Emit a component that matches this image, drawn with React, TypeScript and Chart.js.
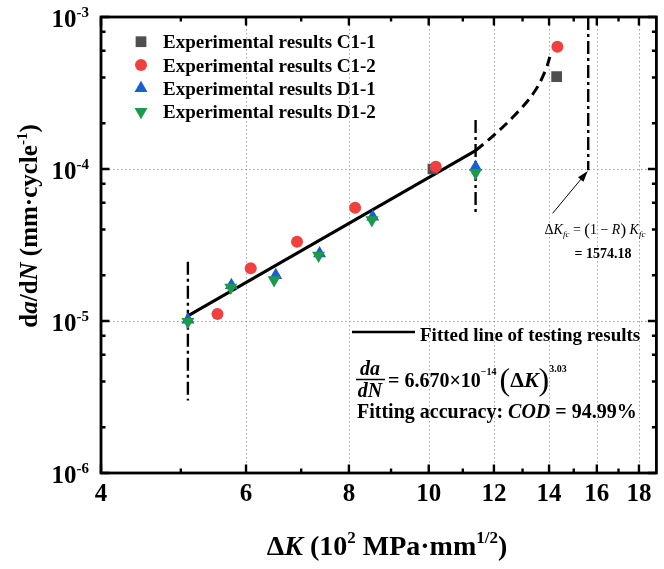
import React, { useEffect, useRef } from 'react';
import { Chart, registerables } from 'chart.js';
import { drawPoint } from 'chart.js/helpers';

Chart.register(...registerables);

// ---------- data ----------
const seriesNames = [
  'Experimental results C1-1',
  'Experimental results C1-2',
  'Experimental results D1-1',
  'Experimental results D1-2',
];
const c11K = [10.12, 14.3];
const c11Rate = [1.0e-4, 4.05e-4];
const c12K = [5.54, 6.08, 6.92, 8.14, 10.2, 14.33];
const c12Rate = [1.11e-5, 2.22e-5, 3.32e-5, 5.56e-5, 1.035e-4, 6.38e-4];
const d11K = [5.1, 5.76, 6.52, 7.37, 8.55, 11.4];
const d11Rate = [1.02e-5, 1.72e-5, 2.0e-5, 2.78e-5, 4.85e-5, 1.03e-4];
const d12K = [5.1, 5.75, 6.49, 7.35, 8.53, 11.4];
const d12Rate = [0.99e-5, 1.66e-5, 1.86e-5, 2.7e-5, 4.62e-5, 9.46e-5];

const fitK = [5.1, 11.4];
const fitRate = [1.08e-5, 1.32e-4];
const extrapK = [11.4, 12.0, 12.7, 13.4, 13.84, 14.07];
const extrapRate = [1.32e-4, 1.67e-4, 2.24e-4, 3.15e-4, 4.37e-4, 5.77e-4];

const limitLeftK = [5.1, 5.1];
const limitLeftRate = [2.45e-5, 3.0e-6];
const limitMidK = [11.4, 11.4];
const limitMidRate = [2.1e-4, 5.2e-5];
const kfcK = [15.62, 15.62];
const kfcRate = [1.0e-3, 9.8e-5];

const arrowTail = { x: 14.14, y: 5.11e-5 };
const arrowHead = { x: 15.6, y: 9.7e-5 };

// ---------- ticks ----------
const xMajorTicks = [4, 6, 8, 10, 12, 14, 16, 18];
const xTickLabels = ['4', '6', '8', '10', '12', '14', '16', '18'];
const xMinorTicks = [5, 7, 9, 11, 13, 15, 17];
const xGridValues = [6, 8, 10, 12, 14, 16, 18];
const yMajorTicks = [1e-6, 1e-5, 1e-4, 1e-3];
const yTickExponents = ['-6', '-5', '-4', '-3'];
const yMinorTicks = [2e-6, 4e-6, 6e-6, 8e-6, 2e-5, 4e-5, 6e-5, 8e-5, 2e-4, 4e-4, 6e-4, 8e-4];
const yGridValues = [1e-5, 1e-4];

const COLORS = ['#4f4f4f', '#f0413f', '#1a5fd1', '#1b9a4c'];
const STYLES = [
  { pointStyle: 'rect', rotation: 0, radius: 7.6 },
  { pointStyle: 'circle', rotation: 0, radius: 6 },
  { pointStyle: 'triangle', rotation: 0, radius: 7.5 },
  { pointStyle: 'triangle', rotation: 180, radius: 7.5 },
];

const SERIF = '"Liberation Serif", "Times New Roman", serif';
const B = (s: number) => `bold ${s}px ${SERIF}`;
const BI = (s: number) => `italic bold ${s}px ${SERIF}`;
const N = (s: number) => `${s}px ${SERIF}`;
const I = (s: number) => `italic ${s}px ${SERIF}`;

type Part = { t: string; font: string; dy?: number };

function richWidth(ctx: CanvasRenderingContext2D, parts: Part[]) {
  let w = 0;
  for (const p of parts) {
    ctx.font = p.font;
    w += ctx.measureText(p.t).width;
  }
  return w;
}

function drawRich(ctx: CanvasRenderingContext2D, parts: Part[], x: number, y: number, align: 'left' | 'center' | 'right' = 'left') {
  const w = richWidth(ctx, parts);
  let cx = align === 'center' ? x - w / 2 : align === 'right' ? x - w : x;
  ctx.textAlign = 'left';
  ctx.textBaseline = 'alphabetic';
  for (const p of parts) {
    ctx.font = p.font;
    ctx.fillText(p.t, cx, y + (p.dy || 0));
    cx += ctx.measureText(p.t).width;
  }
  return w;
}

const zip = (a: number[], b: number[]) => a.map((v, i) => ({ x: v, y: b[i] }));

const framePlugin = {
  id: 'frame',
  beforeDatasetsDraw(chart: any) {
    const { ctx, chartArea: a, scales } = chart;
    const x = scales.x;
    const y = scales.y;
    ctx.save();
    ctx.strokeStyle = '#a3a3a3';
    ctx.lineWidth = 1;
    ctx.setLineDash([1.5, 2.5]);
    for (const v of xGridValues) {
      const px = Math.round(x.getPixelForValue(v)) + 0.5;
      ctx.beginPath();
      ctx.moveTo(px, a.top);
      ctx.lineTo(px, a.bottom);
      ctx.stroke();
    }
    for (const v of yGridValues) {
      const py = Math.round(y.getPixelForValue(v)) + 0.5;
      ctx.beginPath();
      ctx.moveTo(a.left, py);
      ctx.lineTo(a.right, py);
      ctx.stroke();
    }
    ctx.restore();
  },
  afterDatasetsDraw(chart: any) {
    const { ctx, chartArea: a, scales } = chart;
    const x = scales.x;
    const y = scales.y;
    ctx.save();
    ctx.setLineDash([]);
    ctx.strokeStyle = '#000';
    ctx.fillStyle = '#000';

    // ticks (inward on all four sides)
    ctx.lineWidth = 2.4;
    const tickX = (v: number, len: number) => {
      const px = x.getPixelForValue(v);
      ctx.beginPath();
      ctx.moveTo(px, a.bottom);
      ctx.lineTo(px, a.bottom - len);
      ctx.moveTo(px, a.top);
      ctx.lineTo(px, a.top + len);
      ctx.stroke();
    };
    const tickY = (v: number, len: number) => {
      const py = y.getPixelForValue(v);
      ctx.beginPath();
      ctx.moveTo(a.left, py);
      ctx.lineTo(a.left + len, py);
      ctx.moveTo(a.right, py);
      ctx.lineTo(a.right - len, py);
      ctx.stroke();
    };
    xMajorTicks.forEach((v) => tickX(v, 8.5));
    xMinorTicks.forEach((v) => tickX(v, 4.5));
    yMajorTicks.forEach((v) => tickY(v, 8.5));
    yMinorTicks.forEach((v) => tickY(v, 4.5));

    // frame
    ctx.lineWidth = 2.8;
    ctx.strokeRect(a.left, a.top, a.right - a.left, a.bottom - a.top);

    // x tick labels
    ctx.font = B(25);
    ctx.textAlign = 'center';
    ctx.textBaseline = 'alphabetic';
    xMajorTicks.forEach((v, i) => {
      ctx.fillText(xTickLabels[i], x.getPixelForValue(v), 501);
    });

    // y tick labels 10^n
    yMajorTicks.forEach((v, i) => {
      const py = y.getPixelForValue(v);
      drawRich(ctx, [
        { t: '10', font: B(25) },
        { t: yTickExponents[i], font: B(15), dy: -10 },
      ], 89, py + 10, 'right');
    });

    // x title
    drawRich(ctx, [
      { t: 'Δ', font: B(28) },
      { t: 'K', font: BI(28) },
      { t: ' (10', font: B(28) },
      { t: '2', font: B(17), dy: -12 },
      { t: ' MPa·mm', font: B(28) },
      { t: '1/2', font: B(17), dy: -12 },
      { t: ')', font: B(28) },
    ], 387, 555, 'center');

    // y title
    ctx.save();
    ctx.translate(37, 226);
    ctx.rotate(-Math.PI / 2);
    drawRich(ctx, [
      { t: 'd', font: B(25) },
      { t: 'a', font: BI(25) },
      { t: '/d', font: B(25) },
      { t: 'N', font: BI(25) },
      { t: ' (mm·cycle', font: B(25) },
      { t: '-1', font: B(15), dy: -10 },
      { t: ')', font: B(25) },
    ], 0, 0, 'center');
    ctx.restore();

    // legend (top-left)
    const rows = [41.7, 65, 88.3, 111.7];
    seriesNames.forEach((name, i) => {
      ctx.fillStyle = COLORS[i];
      ctx.strokeStyle = COLORS[i];
      drawPoint(ctx, { ...STYLES[i], borderWidth: 0 } as any, 141, rows[i]);
      ctx.fillStyle = '#000';
      ctx.font = B(19);
      ctx.textAlign = 'left';
      ctx.textBaseline = 'alphabetic';
      ctx.fillText(name, 163, rows[i] + 6.5);
    });

    // fitted-line legend + formula
    ctx.strokeStyle = '#000';
    ctx.fillStyle = '#000';
    ctx.lineWidth = 2.6;
    ctx.beginPath();
    ctx.moveTo(352, 332);
    ctx.lineTo(415, 332);
    ctx.stroke();
    drawRich(ctx, [{ t: 'Fitted line of testing results', font: B(19) }], 420, 341);

    drawRich(ctx, [{ t: 'da', font: BI(20) }], 370, 375, 'center');
    ctx.lineWidth = 1.5;
    ctx.beginPath();
    ctx.moveTo(356, 379.5);
    ctx.lineTo(385, 379.5);
    ctx.stroke();
    drawRich(ctx, [{ t: 'dN', font: BI(20) }], 370, 397, 'center');
    drawRich(ctx, [
      { t: '= 6.670×10', font: B(20) },
      { t: '−14', font: B(10), dy: -12 },
      { t: ' ', font: B(12) },
      { t: '(', font: N(32), dy: 3 },
      { t: 'Δ', font: B(22) },
      { t: 'K', font: BI(22) },
      { t: ')', font: N(32), dy: 3 },
      { t: '3.03', font: B(10), dy: -15 },
    ], 388, 387);

    drawRich(ctx, [
      { t: 'Fitting accuracy', font: B(20) },
      { t: ': ', font: B(20) },
      { t: 'COD', font: BI(20) },
      { t: ' = 94.99%', font: B(20) },
    ], 357, 418);

    // annotation for ΔKfc
    drawRich(ctx, [
      { t: 'Δ', font: N(14) },
      { t: 'K', font: I(14) },
      { t: 'fc', font: I(9), dy: 3 },
      { t: ' = ', font: N(14) },
      { t: '(', font: N(17), dy: 1 },
      { t: '1 − ', font: N(14) },
      { t: 'R', font: I(14) },
      { t: ')', font: N(17), dy: 1 },
      { t: ' K', font: I(14) },
      { t: 'fc', font: I(9), dy: 3 },
    ], 595, 234, 'center');
    drawRich(ctx, [{ t: '= 1574.18', font: B(14) }], 603, 258, 'center');

    // arrow
    const tx = x.getPixelForValue(arrowTail.x);
    const ty = y.getPixelForValue(arrowTail.y);
    const hx = x.getPixelForValue(arrowHead.x);
    const hy = y.getPixelForValue(arrowHead.y);
    const ang = Math.atan2(hy - ty, hx - tx);
    ctx.lineWidth = 1;
    ctx.beginPath();
    ctx.moveTo(tx, ty);
    ctx.lineTo(hx - Math.cos(ang) * 8, hy - Math.sin(ang) * 8);
    ctx.stroke();
    ctx.beginPath();
    ctx.moveTo(hx, hy);
    ctx.lineTo(hx - Math.cos(ang) * 11 + Math.sin(ang) * 3.5, hy - Math.sin(ang) * 11 - Math.cos(ang) * 3.5);
    ctx.lineTo(hx - Math.cos(ang) * 11 - Math.sin(ang) * 3.5, hy - Math.sin(ang) * 11 + Math.cos(ang) * 3.5);
    ctx.closePath();
    ctx.fill();

    ctx.restore();
  },
};

export default function App() {
  const ref = useRef<HTMLCanvasElement>(null);
  useEffect(() => {
    const canvas = ref.current;
    if (!canvas) return;
    const pointSet = (i: number, kx: number[], ky: number[], order: number) => ({
      label: seriesNames[i],
      data: zip(kx, ky),
      showLine: false,
      pointStyle: STYLES[i].pointStyle,
      rotation: STYLES[i].rotation,
      pointRadius: STYLES[i].radius,
      pointBorderWidth: 0,
      backgroundColor: COLORS[i],
      borderColor: COLORS[i],
      order,
    });
    const lineSet = (label: string, kx: number[], ky: number[], dash: number[], width: number, order: number, tension = 0) => ({
      label,
      data: zip(kx, ky),
      showLine: true,
      pointRadius: 0,
      borderColor: '#000',
      borderWidth: width,
      borderDash: dash,
      tension,
      fill: false,
      order,
    });
    const chart = new Chart(canvas, {
      type: 'scatter',
      data: {
        datasets: [
          pointSet(3, d12K, d12Rate, 1),
          pointSet(2, d11K, d11Rate, 2),
          pointSet(1, c12K, c12Rate, 3),
          pointSet(0, c11K, c11Rate, 4),
          lineSet('Fitted line of testing results', fitK, fitRate, [], 3, 5),
          lineSet('Extrapolation', extrapK, extrapRate, [10, 6], 3, 5, 0.4),
          lineSet('Limit left', limitLeftK, limitLeftRate, [13, 4, 3, 4], 2.4, 6),
          lineSet('Limit mid', limitMidK, limitMidRate, [13, 4, 3, 4], 2.4, 6),
          lineSet('Kfc', kfcK, kfcRate, [13, 4, 3, 4], 2.4, 6),
        ] as any,
      },
      options: {
        responsive: false,
        animation: false,
        devicePixelRatio: 1,
        layout: { padding: { left: 101, top: 17, right: 0, bottom: 96 } },
        scales: {
          x: { type: 'logarithmic', min: 4, max: 18.9, display: false },
          y: { type: 'logarithmic', min: 1e-6, max: 1e-3, display: false },
        },
        plugins: {
          legend: { display: false },
          tooltip: { enabled: false },
        },
      } as any,
      plugins: [framePlugin],
    });
    return () => chart.destroy();
  }, []);
  return (
    <div style={{ position: 'fixed', left: 0, top: 0, width: 664, height: 569, background: '#fff' }}>
      <canvas ref={ref} width={664} height={569} style={{ width: 664, height: 569, display: 'block' }} />
    </div>
  );
}
